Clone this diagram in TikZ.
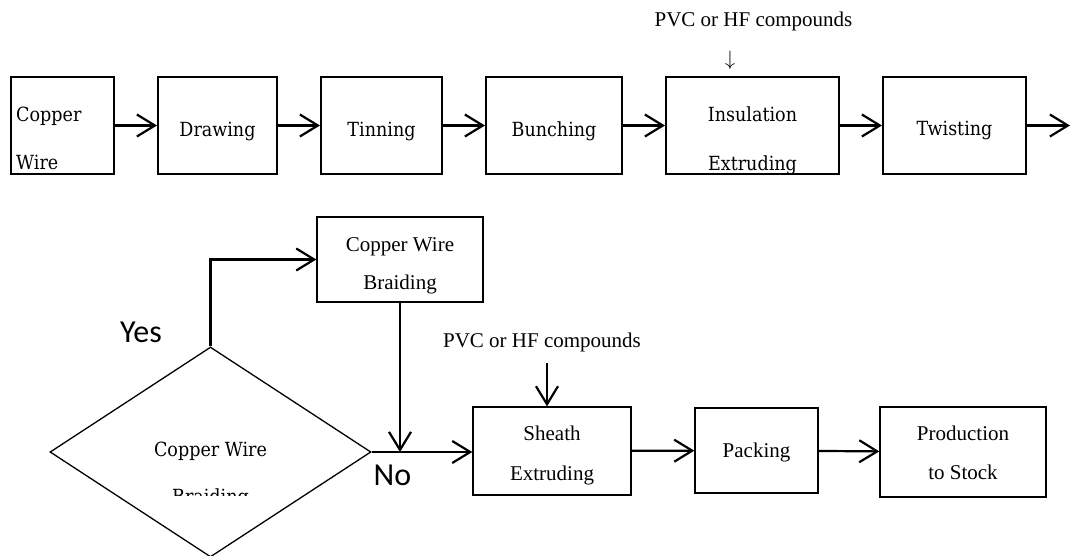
\documentclass[tikz,border=0pt]{standalone}
\usepackage{fontspec}
\usetikzlibrary{arrows.meta,shapes.geometric}
\newfontfamily\timesfont{Liberation Serif}
\newfontfamily\camfont{DejaVu Serif Condensed}
\newfontfamily\answerfont{Carlito}

\tikzset{
  box/.style={draw, line width=2pt, inner sep=0pt},
  lbox/.style={draw, line width=1.3pt, inner sep=0pt},
  dia/.style={draw, shape=diamond, line width=1.3pt, inner sep=0pt, aspect=1.53},
  cam/.style={font=\camfont\fontsize{19.5}{24}\selectfont, inner sep=0pt, anchor=base},
  tnr/.style={font=\timesfont\fontsize{21}{25}\selectfont, inner sep=0pt, anchor=base},
  answer/.style={font=\answerfont\fontsize{32}{38}\selectfont, inner sep=0pt, anchor=base},
  flow/.style={-{Straight Barb[length=18pt,width=22pt]}, line width=2.2pt},
}

\begin{document}
\begin{tikzpicture}[x=1pt, y=-1pt]
  \useasboundingbox (0,0) rectangle (1072,555);

  % first line of the process
  \node[box, minimum width=103, minimum height=97] (cw) at (62.5,125.5) {};
  \node[box, minimum width=119, minimum height=97] (dr) at (217.5,125.5) {};
  \node[box, minimum width=121, minimum height=97] (tin) at (381.5,125.5) {};
  \node[box, minimum width=136, minimum height=97] (bun) at (554,125.5) {};
  \node[box, minimum width=173, minimum height=97] (ins) at (752.5,125.5) {};
  \node[box, minimum width=143, minimum height=97] (tw) at (954.5,125.5) {};
  \coordinate (out) at (1070,125.5);

  \node[cam, anchor=base west] (cwA) at (16,121) {Copper};
  \node[cam, anchor=base west] (cwB) at (16,169) {Wire};
  \node[cam] (drA) at (217.5,136) {Drawing};
  \node[cam] (tinA) at (381.5,136) {Tinning};
  \node[cam] (bunA) at (554,136) {Bunching};
  \node[cam] (insA) at (752.5,121) {Insulation};
  \node[cam] (insB) at (752.5,170) {Extruding};
  \node[cam] (twA) at (954.5,135) {Twisting};

  \node[tnr] (pvcA) at (753.5,26) {PVC or HF compounds};
  \node[tnr, anchor=center] (dnA) at (730,60) {$\downarrow$};

  \draw[flow] (cw) -- (dr);
  \draw[flow] (dr) -- (tin);
  \draw[flow] (tin) -- (bun);
  \draw[flow] (bun) -- (ins);
  \draw[flow] (ins) -- (tw);
  \draw[flow] (tw) -- (out);

  % second line of the process
  \node[dia, minimum width=321, minimum height=210] (cwb) at (210.5,452) {};
  \node[lbox, minimum width=166, minimum height=85] (br) at (400,259.5) {};
  \node[lbox, minimum width=158, minimum height=88] (sh) at (552,451) {};
  \node[lbox, minimum width=123, minimum height=85] (pk) at (756.5,450.5) {};
  \node[lbox, minimum width=166, minimum height=90] (ps) at (963,452) {};
  \coordinate (inB) at (547,363);

  \node[cam] (cwbA) at (210.5,456) {Copper Wire};
  \begin{scope}
    \clip (0,0) rectangle (1072,495);
    \node[cam] (cwbB) at (210.5,503) {Braiding};
  \end{scope}
  \node[tnr] (brA) at (400,251) {Copper Wire};
  \node[tnr] (brB) at (400,289) {Braiding};
  \node[tnr] (shA) at (552,440) {Sheath};
  \node[tnr] (shB) at (552,480) {Extruding};
  \node[tnr] (pkA) at (756.5,457) {Packing};
  \node[tnr] (psA) at (963,440) {Production};
  \node[tnr] (psB) at (963,479) {to Stock};
  \node[tnr] (pvcB) at (542,347) {PVC or HF compounds};
  \node[answer] (yes) at (141,342) {Yes};
  \node[answer] (no) at (392.5,485) {No};

  \draw[flow] (cwb.north) |- (br.west);
  \draw[flow] (br.south) -- (br.south |- cwb.east);
  \draw[flow] (cwb.east) -- (cwb.east -| sh.west);
  \draw[flow] (inB) -- (inB |- sh.north);
  \draw[flow] (sh) -- (pk);
  \draw[flow] (pk) -- (ps);
\end{tikzpicture}
\end{document}
